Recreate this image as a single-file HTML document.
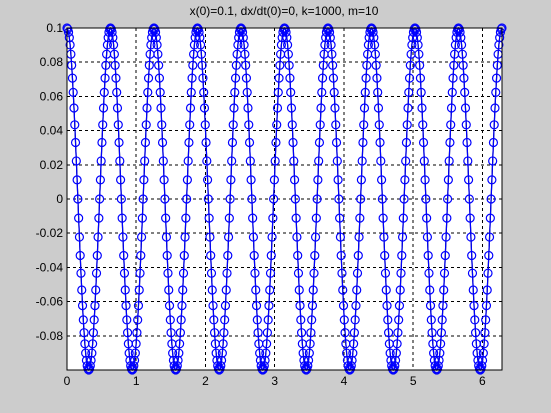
<!DOCTYPE html>
<html><head><meta charset="utf-8"><style>
html,body{margin:0;padding:0;background:#cccccc;}
svg{display:block;font-family:"Liberation Sans",sans-serif;}
</style></head><body>
<svg id="chart" width="551" height="413" viewBox="0 0 551 413" xmlns="http://www.w3.org/2000/svg">
<rect x="0" y="0" width="551" height="413" fill="#cccccc"/>
<rect x="67" y="28" width="435" height="342" fill="#ffffff"/>
<g id="grid" shape-rendering="crispEdges"></g>
<g id="black-series"></g>
<g id="blue-series"></g>
<rect x="67" y="28" width="435" height="342" fill="none" stroke="#000" stroke-width="1" shape-rendering="crispEdges"/>
<g id="ticks" font-size="12" fill="#000"></g>
<text x="284" y="15" font-size="12" text-anchor="middle">x(0)=0.1, dx/dt(0)=0, k=1000, m=10</text>
</svg>
<script>
const xTicks = [0,1,2,3,4,5,6];
const yTicks = [0.1,0.08,0.06,0.04,0.02,0,-0.02,-0.04,-0.06,-0.08];
const yTickLabels = ["0.1","0.08","0.06","0.04","0.02","0","-0.02","-0.04","-0.06","-0.08"];
const amplitude = 0.1;
const periodDuration = 0.6283;
const periodCount = 10;
const periodShape = [1,.9937,.9749,.9439,.9010,.8467,.7818,.7071,.6235,.5320,.4339,.3303,.2225,.1120,0,
 -.1120,-.2225,-.3303,-.4339,-.5320,-.6235,-.7071,-.7818,-.8467,-.9010,-.9439,-.9749,-.9937,-1,
 -.9937,-.9749,-.9439,-.9010,-.8467,-.7818,-.7071,-.6235,-.5320,-.4339,-.3303,-.2225,-.1120,0,
 .1120,.2225,.3303,.4339,.5320,.6235,.7071,.7818,.8467,.9010,.9439,.9749,.9937];
const blackShift = 0;

const NS="http://www.w3.org/2000/svg";
const X0=67,X1=502,Y0=28,Y1=370;
const xMin=0,xMax=6.2832,yMin=-0.1,yMax=0.1;
function X(t){return X0+(t-xMin)/(xMax-xMin)*(X1-X0);}
function Y(v){return Y1-(v-yMin)/(yMax-yMin)*(Y1-Y0);}
function mk(tag,attrs,parent){const e=document.createElementNS(NS,tag);for(const k in attrs)e.setAttribute(k,attrs[k]);parent.appendChild(e);return e;}

const grid=document.getElementById('grid');
const ticks=document.getElementById('ticks');
xTicks.forEach((t,i)=>{
  const l=mk('line',{x1:X(t),x2:X(t),y1:Y0,y2:Y1,stroke:'#000','stroke-dasharray':'3,3','stroke-width':1},grid);
  
  
  const tx=mk('text',{x:X(t),y:Y1+15,'text-anchor':'middle'},ticks);
  tx.textContent=String(t);
  
  
});
yTicks.forEach((v,i)=>{
  const l=mk('line',{x1:X0,x2:X1,y1:Y(v),y2:Y(v),stroke:'#000','stroke-dasharray':'3,3','stroke-width':1},grid);
  
  
  const tx=mk('text',{x:X0-4,y:Y(v)+4,'text-anchor':'end'},ticks);
  tx.textContent=yTickLabels[i];
  
  
});

function drawSeries(g,color,shift,withMarkers){
  const n=periodShape.length;
  const dt=periodDuration/n;
  const pts=[];
  for(let p=0;p<periodCount;p++){
    for(let k=0;k<n;k++){
      const t=(p*n+k+shift)*dt;
      if(t>xMax+1e-6)continue;
      pts.push([X(t),Y(amplitude*periodShape[k])]);
    }
  }
  pts.push([X(periodCount*n*dt),Y(amplitude*periodShape[0])]);
  const pl=mk('polyline',{points:pts.map(q=>q[0].toFixed(2)+','+q[1].toFixed(2)).join(' '),fill:'none',stroke:color,'stroke-width':1.2},g);
  
  
  if(withMarkers){
    pts.forEach(q=>{
      const c=mk('circle',{cx:q[0].toFixed(2),cy:q[1].toFixed(2),r:4,fill:'none',stroke:color,'stroke-width':1.2},g);
      
      
    });
  }
}
drawSeries(document.getElementById('black-series'),'#000',blackShift,false);
drawSeries(document.getElementById('blue-series'),'#0000ff',0,true);
</script>
</body></html>
